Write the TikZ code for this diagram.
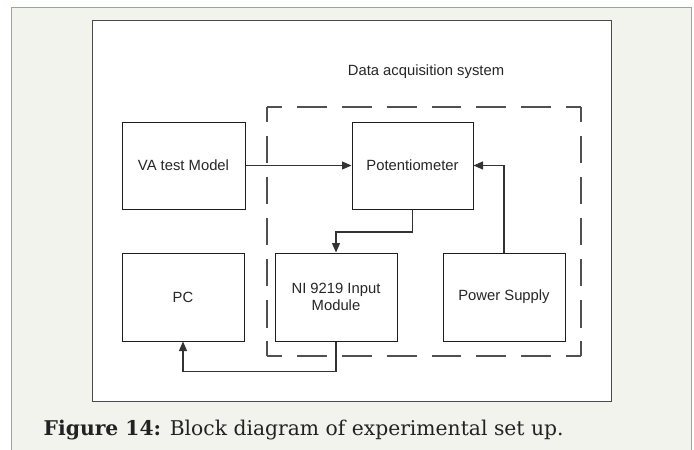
\documentclass[tikz,border=0pt]{standalone}
\usepackage{fontspec}
\setmainfont{Liberation Sans}
\newfontfamily\capfont{DejaVu Serif}
\usetikzlibrary{arrows.meta}
\definecolor{panelbg}{HTML}{F3F3EE}
\definecolor{panelblue}{HTML}{7FA7DC}
\definecolor{framegray}{HTML}{4A4A4A}
\definecolor{boxline}{HTML}{1E1E1E}
\definecolor{wiregray}{HTML}{333333}
\definecolor{dashgray}{HTML}{505050}
\definecolor{captext}{HTML}{222222}
\begin{document}
\begin{tikzpicture}[x=1pt,y=-1pt,
  blockbox/.style={draw=boxline,line width=1pt,fill=white,inner sep=0pt,
    align=center,font=\fontsize{14.8}{17}\selectfont,text=black!85},
  wire/.style={draw=wiregray,line width=1.1pt},
  arr/.style={wire,-{Triangle[length=9.5pt,width=8pt]}},
  hdash/.style={dashgray,line width=1.1pt,dash pattern=on 29.9pt off 14.95pt,dash phase=14.9pt},
  vdash/.style={dashgray,line width=1.1pt,dash pattern=on 27.4pt off 13.7pt,dash phase=12.4pt},
  lbl/.style={inner sep=0pt,font=\fontsize{14.8}{17}\selectfont,text=black!85}]
\useasboundingbox (0,0) rectangle (694,450);
\fill[white] (0,0) rectangle (694,450);
\fill[panelbg] (11,7) rectangle (691,450);
\draw[panelblue,line width=1pt] (11,450) -- (11,7) -- (691,7) -- (691,450);
\draw[framegray,line width=1pt,fill=white] (92,20) rectangle (611,401);
% dashed system boundary
\coordinate (d1) at (267,107);
\coordinate (d2) at (581,107);
\coordinate (d3) at (581,356);
\coordinate (d4) at (267,356);
\draw[hdash] (d1) -- (d2);
\draw[hdash] (d4) -- (d3);
\draw[vdash] (d1) -- (d4);
\draw[vdash] (d2) -- (d3);
\node[lbl,anchor=base] (title) at (426,75.5) {Data acquisition system};
% blocks
\node[blockbox,minimum width=123pt,minimum height=87pt] (va) at (183.5,165.5) {VA test Model};
\node[blockbox,minimum width=121pt,minimum height=87pt] (pot) at (412.5,165.5) {Potentiometer};
\node[blockbox,minimum width=122pt,minimum height=88pt] (pc) at (183,297) {PC};
\node[blockbox,minimum width=122pt,minimum height=88pt] (ni) at (336,297) {NI 9219 Input\\Module};
\node[blockbox,minimum width=122pt,minimum height=88pt] (ps) at (504,297) {Power Supply};
% connectors
\draw[arr] (va.east) -- (pot.west);
\draw[arr] (pot.south) -- ++(0,22.5) coordinate (k1) -| (ni.north);
\draw[arr] (ps.north) |- (pot.east);
\draw[arr] (ni.south) -- ++(0,30) coordinate (k2) -| (pc.south);
% caption
\node[anchor=base west,inner sep=0pt,text=captext] (cap) at (43.5,435)
  {\capfont\fontsize{20.3}{23}\selectfont\textbf{Figure 14:} Block diagram of experimental set up.};
\end{tikzpicture}
\end{document}
